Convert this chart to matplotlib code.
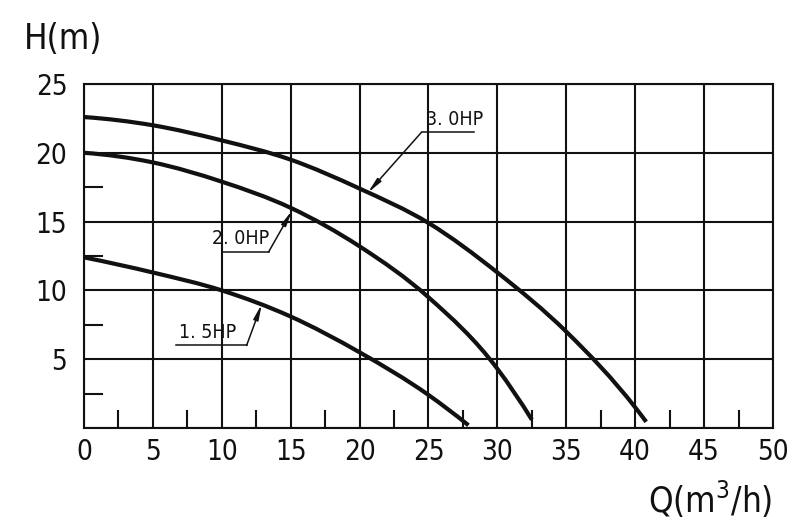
import matplotlib

matplotlib.use("Agg")
import matplotlib.pyplot as plt
from matplotlib.patches import PathPatch
from matplotlib.path import Path

plt.rcParams["font.family"] = ["Liberation Sans Narrow", "DejaVu Sans"]
plt.rcParams["font.stretch"] = "condensed"

INK = "#111111"

# pump curves: flow Q (m3/h) vs head H (m)
q_30 = [0, 5, 10, 15, 20, 25, 30, 35, 40, 40.8]
h_30 = [22.6, 22.0, 20.9, 19.5, 17.4, 14.9, 11.3, 7.0, 1.5, 0.45]

q_20 = [0, 5, 10, 15, 20, 25, 30, 32.5]
h_20 = [20.0, 19.3, 17.9, 16.0, 13.2, 9.5, 4.3, 0.6]

q_15 = [0, 5, 10, 15, 20, 25, 27.9]
h_15 = [12.4, 11.3, 10.0, 8.1, 5.5, 2.4, 0.2]

x_ticks = list(range(0, 51, 5))
y_ticks = [5, 10, 15, 20, 25]
x_minor = [2.5 + 5 * i for i in range(10)]
y_minor = [2.5, 7.5, 12.5, 17.5, 22.5]


def smooth_path(xs, ys):
    # cubic Hermite through the read points, written as Bezier segments
    n = len(xs)
    h = [xs[i + 1] - xs[i] for i in range(n - 1)]
    d = [(ys[i + 1] - ys[i]) / h[i] for i in range(n - 1)]
    m = [0.0] * n
    for i in range(1, n - 1):
        m[i] = (d[i - 1] * h[i] + d[i] * h[i - 1]) / (h[i - 1] + h[i])
    m[0] = 2 * d[0] - m[1]
    m[-1] = 2 * d[-1] - m[-2]
    verts = [(xs[0], ys[0])]
    codes = [Path.MOVETO]
    for i in range(n - 1):
        k = h[i] / 3
        verts += [(xs[i] + k, ys[i] + m[i] * k),
                  (xs[i + 1] - k, ys[i + 1] - m[i + 1] * k),
                  (xs[i + 1], ys[i + 1])]
        codes += [Path.CURVE4] * 3
    return Path(verts, codes)


fig = plt.figure(figsize=(8.1, 5.26), dpi=100, facecolor="white")
ax = fig.add_axes([0.1037, 0.1863, 0.8506, 0.654])
ax.set_xlim(0, 50)
ax.set_ylim(0, 25)

for x in x_ticks:
    ax.axvline(x, color=INK, lw=1.5, zorder=1)
for y in [0] + y_ticks:
    ax.axhline(y, color=INK, lw=1.5, zorder=1)

# short inward minor ticks
for x in x_minor:
    ax.plot([x, x], [0, 1.25], color=INK, lw=1.5, zorder=1)
for y in y_minor:
    ax.plot([0, 1.3], [y, y], color=INK, lw=1.5, zorder=1)

for q, hd in [(q_30, h_30), (q_20, h_20), (q_15, h_15)]:
    ax.add_patch(PathPatch(smooth_path(q, hd), fill=False, edgecolor=INK, lw=3.0,
                           capstyle="butt", zorder=3))

for s in ax.spines.values():
    s.set_linewidth(1.5)
    s.set_color(INK)

ax.set_xticks(x_ticks)
ax.set_yticks(y_ticks)
ax.tick_params(length=0, labelsize=20, colors=INK)
ax.tick_params(axis="x", pad=7)
ax.tick_params(axis="y", pad=12)


def label(text, tx0, tx1, ty, tip):
    # underline, leader and arrowhead
    ax.plot([tx0, tx1], [ty, ty], color=INK, lw=1.1, zorder=4)
    x_start = tx1 if tip[0] > tx1 else tx0
    ax.annotate(
        "",
        xy=tip,
        xytext=(x_start, ty),
        arrowprops=dict(arrowstyle="-|>,head_length=0.9,head_width=0.15", color=INK, lw=1.1, shrinkA=0, shrinkB=0),
        zorder=4,
    )
    ax.text((tx0 + tx1) / 2 + (0.5 if x_start == tx0 else -0.3), ty + 0.25, text,
            ha="center", va="bottom", fontsize=14, color=INK, zorder=4)


label("3. 0HP", 24.5, 28.3, 21.5, (20.6, 17.1))
label("2. 0HP", 10.0, 13.4, 12.8, (15.1, 15.8))
label("1. 5HP", 6.7, 11.8, 6.0, (12.9, 9.0))

fig.text(0.030, 0.925, "H(m)", fontsize=25, color=INK, ha="left", va="center")
fig.text(0.800, 0.05, r"Q(m$^3$/h)", fontsize=25, color=INK, ha="left", va="center")

fig.savefig("out.png", dpi=100, facecolor="white")
